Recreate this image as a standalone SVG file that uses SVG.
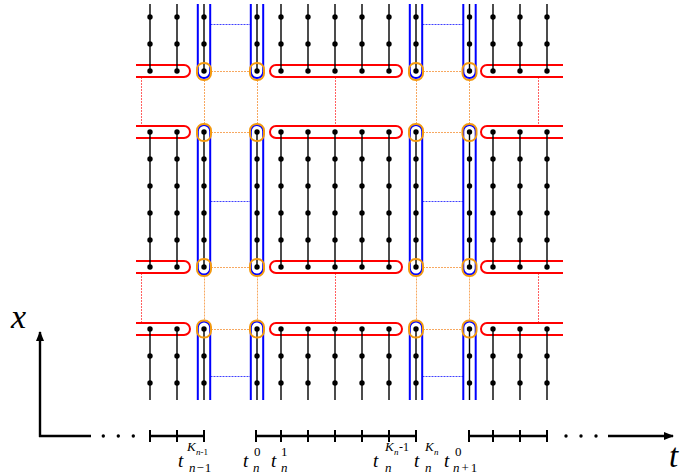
<svg xmlns="http://www.w3.org/2000/svg" width="680" height="474" viewBox="0 0 680 474">
<style>
.v{stroke:#000;stroke-width:1.4;fill:none}
.d{fill:#000}
.blue{fill:none;stroke:#0000ff;stroke-width:2}
.org{fill:none;stroke:#f39a10;stroke-width:2}
.red{fill:none;stroke:#ff0000;stroke-width:2}
.rdot{stroke:#ff6060;stroke-width:1;stroke-dasharray:2 1;fill:none}
.odot{stroke:#f7a860;stroke-width:1;stroke-dasharray:2 1;fill:none}
.bdot{stroke:#4040ff;stroke-width:1;stroke-dasharray:2 1;fill:none}
.ax{stroke:#000;stroke-width:2.4;fill:none}
.tk{stroke:#000;stroke-width:2;fill:none}
.it{font-family:"Liberation Serif","DejaVu Serif",serif;font-style:italic}
.rm{font-family:"Liberation Serif","DejaVu Serif",serif;font-style:normal}
</style>
<defs>
<clipPath id="clip"><rect x="136" y="4" width="427" height="396"/></clipPath>
<marker id="ah" markerUnits="userSpaceOnUse" markerWidth="10" markerHeight="8" refX="9" refY="4" orient="auto">
<path d="M0,0 L10,4 L0,8 z" fill="#000"/>
</marker>
<g id="dots">
<circle cx="0" cy="17" r="2.7"/><circle cx="0" cy="44" r="2.7"/><circle cx="0" cy="71" r="2.7"/>
<circle cx="0" cy="132" r="2.7"/><circle cx="0" cy="159" r="2.7"/><circle cx="0" cy="186" r="2.7"/>
<circle cx="0" cy="213" r="2.7"/><circle cx="0" cy="240" r="2.7"/><circle cx="0" cy="267" r="2.7"/>
<circle cx="0" cy="329" r="2.7"/><circle cx="0" cy="356" r="2.7"/><circle cx="0" cy="383" r="2.7"/>
</g>
<path id="vline" d="M0 4V71M0 132V267M0 329V400"/>
</defs>

<g clip-path="url(#clip)">
<!-- connectors (dotted) -->
<g id="connectors">
<path class="rdot" d="M141.5 77V126M335.5 77V126M538.5 77V126M141.5 273V323M335.5 273V323M538.5 273V323"/>
<path class="odot" d="M211 71.5H250M211 132.5H250M211 267.5H250M211 329.5H250M423 71.5H462M423 132.5H462M423 267.5H462M423 329.5H462"/>
<path class="odot" d="M204.5 80V123.5M257.5 80V123.5M416.5 80V123.5M469.5 80V123.5M204.5 275.5V320.5M257.5 275.5V320.5M416.5 275.5V320.5M469.5 275.5V320.5"/>
<path class="bdot" d="M210.5 24.5H251M210.5 201.5H251M210.5 376.5H251M422.5 24.5H463M422.5 201.5H463M422.5 376.5H463"/>
</g>

<!-- blue subdomain bands -->
<g id="blue-bands">
<rect class="blue" x="197.8" y="-20" width="12.4" height="98" rx="6.2"/>
<rect class="blue" x="197.8" y="125" width="12.4" height="149.5" rx="6.2"/>
<rect class="blue" x="197.8" y="321.5" width="12.4" height="100" rx="6.2"/>
<rect class="blue" x="250.8" y="-20" width="12.4" height="98" rx="6.2"/>
<rect class="blue" x="250.8" y="125" width="12.4" height="149.5" rx="6.2"/>
<rect class="blue" x="250.8" y="321.5" width="12.4" height="100" rx="6.2"/>
<rect class="blue" x="409.8" y="-20" width="12.4" height="98" rx="6.2"/>
<rect class="blue" x="409.8" y="125" width="12.4" height="149.5" rx="6.2"/>
<rect class="blue" x="409.8" y="321.5" width="12.4" height="100" rx="6.2"/>
<rect class="blue" x="463.3" y="-20" width="12.4" height="98" rx="6.2"/>
<rect class="blue" x="463.3" y="125" width="12.4" height="149.5" rx="6.2"/>
<rect class="blue" x="463.3" y="321.5" width="12.4" height="100" rx="6.2"/>
</g>

<!-- red pills -->
<g id="red-pills">
<rect class="red" x="100" y="65" width="90" height="12" rx="6"/>
<rect class="red" x="270" y="65" width="132" height="12" rx="6"/>
<rect class="red" x="481" y="65" width="120" height="12" rx="6"/>
<rect class="red" x="100" y="126" width="90" height="12" rx="6"/>
<rect class="red" x="270" y="126" width="132" height="12" rx="6"/>
<rect class="red" x="481" y="126" width="120" height="12" rx="6"/>
<rect class="red" x="100" y="261" width="90" height="12" rx="6"/>
<rect class="red" x="270" y="261" width="132" height="12" rx="6"/>
<rect class="red" x="481" y="261" width="120" height="12" rx="6"/>
<rect class="red" x="100" y="323" width="90" height="12" rx="6"/>
<rect class="red" x="270" y="323" width="132" height="12" rx="6"/>
<rect class="red" x="481" y="323" width="120" height="12" rx="6"/>
</g>

<!-- grid columns -->
<g id="columns">
<g id="col1" transform="translate(150,0)"><use href="#vline" class="v"/><use href="#dots" class="d"/></g>
<g id="col2" transform="translate(177,0)"><use href="#vline" class="v"/><use href="#dots" class="d"/></g>
<g id="col3" transform="translate(204,0)"><use href="#vline" class="v"/><use href="#dots" class="d"/></g>
<g id="col4" transform="translate(257,0)"><use href="#vline" class="v"/><use href="#dots" class="d"/></g>
<g id="col5" transform="translate(281,0)"><use href="#vline" class="v"/><use href="#dots" class="d"/></g>
<g id="col6" transform="translate(308,0)"><use href="#vline" class="v"/><use href="#dots" class="d"/></g>
<g id="col7" transform="translate(335,0)"><use href="#vline" class="v"/><use href="#dots" class="d"/></g>
<g id="col8" transform="translate(362,0)"><use href="#vline" class="v"/><use href="#dots" class="d"/></g>
<g id="col9" transform="translate(389,0)"><use href="#vline" class="v"/><use href="#dots" class="d"/></g>
<g id="col10" transform="translate(416,0)"><use href="#vline" class="v"/><use href="#dots" class="d"/></g>
<g id="col11" transform="translate(469.5,0)"><use href="#vline" class="v"/><use href="#dots" class="d"/></g>
<g id="col12" transform="translate(493,0)"><use href="#vline" class="v"/><use href="#dots" class="d"/></g>
<g id="col13" transform="translate(520,0)"><use href="#vline" class="v"/><use href="#dots" class="d"/></g>
<g id="col14" transform="translate(547,0)"><use href="#vline" class="v"/><use href="#dots" class="d"/></g>
</g>

<!-- orange interface markers -->
<g id="orange-marks">
<rect class="org" x="197" y="63" width="14" height="17" rx="6.5"/>
<rect class="org" x="197" y="124" width="14" height="17" rx="6.5"/>
<rect class="org" x="197" y="259" width="14" height="17" rx="6.5"/>
<rect class="org" x="197" y="320.5" width="14" height="17" rx="6.5"/>
<rect class="org" x="250" y="63" width="14" height="17" rx="6.5"/>
<rect class="org" x="250" y="124" width="14" height="17" rx="6.5"/>
<rect class="org" x="250" y="259" width="14" height="17" rx="6.5"/>
<rect class="org" x="250" y="320.5" width="14" height="17" rx="6.5"/>
<rect class="org" x="409" y="63" width="14" height="17" rx="6.5"/>
<rect class="org" x="409" y="124" width="14" height="17" rx="6.5"/>
<rect class="org" x="409" y="259" width="14" height="17" rx="6.5"/>
<rect class="org" x="409" y="320.5" width="14" height="17" rx="6.5"/>
<rect class="org" x="462.5" y="63" width="14" height="17" rx="6.5"/>
<rect class="org" x="462.5" y="124" width="14" height="17" rx="6.5"/>
<rect class="org" x="462.5" y="259" width="14" height="17" rx="6.5"/>
<rect class="org" x="462.5" y="320.5" width="14" height="17" rx="6.5"/>
</g>
</g>

<!-- axes -->
<g id="axes">
<path class="ax" d="M40 437V332" marker-end="url(#ah)"/>
<path class="ax" d="M39 436H91"/>
<circle cx="103.3" cy="436" r="1.7"/><circle cx="118.3" cy="436" r="1.7"/><circle cx="133.3" cy="436" r="1.7"/>
<path class="ax" d="M150 436H204M256 436H416M469 436H547"/>
<path class="tk" d="M150 430V442M177 430V442M204 430V442M256 430V442M281 430V442M308 430V442M335 430V442M362 430V442M389 430V442M416 430V442M469 430V442M493 430V442M520 430V442M547 430V442"/>
<circle cx="566" cy="436" r="1.7"/><circle cx="581" cy="436" r="1.7"/><circle cx="596" cy="436" r="1.7"/>
<path class="ax" d="M608 436H673" marker-end="url(#ah)"/>
<text class="it" x="11" y="328" font-size="34">x</text>
<text class="it" x="669" y="467" font-size="33">t</text>
</g>

<!-- time labels -->
<g id="labels">
<text class="it" x="178" y="467" font-size="19">t</text>
<text class="it" x="187" y="451" font-size="13">K</text>
<text x="196" y="455" font-size="9"><tspan class="it">n</tspan><tspan class="rm">-1</tspan></text>
<text x="189" y="472" font-size="13"><tspan class="it">n</tspan><tspan class="rm" dx="1">−</tspan><tspan class="rm" dx="1">1</tspan></text>

<text class="it" x="243" y="467" font-size="19">t</text>
<text class="rm" x="254" y="456" font-size="13">0</text>
<text class="it" x="253" y="472" font-size="13">n</text>

<text class="it" x="271" y="467" font-size="19">t</text>
<text class="rm" x="281" y="456" font-size="13">1</text>
<text class="it" x="281" y="472" font-size="13">n</text>

<text class="it" x="373" y="467" font-size="19">t</text>
<text class="it" x="385" y="451" font-size="13">K</text>
<text class="it" x="394" y="455" font-size="9">n</text>
<text class="rm" x="399" y="451" font-size="12">-1</text>
<text class="it" x="385" y="472" font-size="13">n</text>

<text class="it" x="414" y="467" font-size="19">t</text>
<text class="it" x="425" y="451" font-size="13">K</text>
<text class="it" x="434" y="455" font-size="9">n</text>
<text class="it" x="425" y="472" font-size="13">n</text>

<text class="it" x="444" y="467" font-size="19">t</text>
<text class="rm" x="455" y="456" font-size="13">0</text>
<text x="453" y="472" font-size="13"><tspan class="it">n</tspan><tspan class="rm" dx="2">+</tspan><tspan class="rm" dx="2">1</tspan></text>
</g>
</svg>
